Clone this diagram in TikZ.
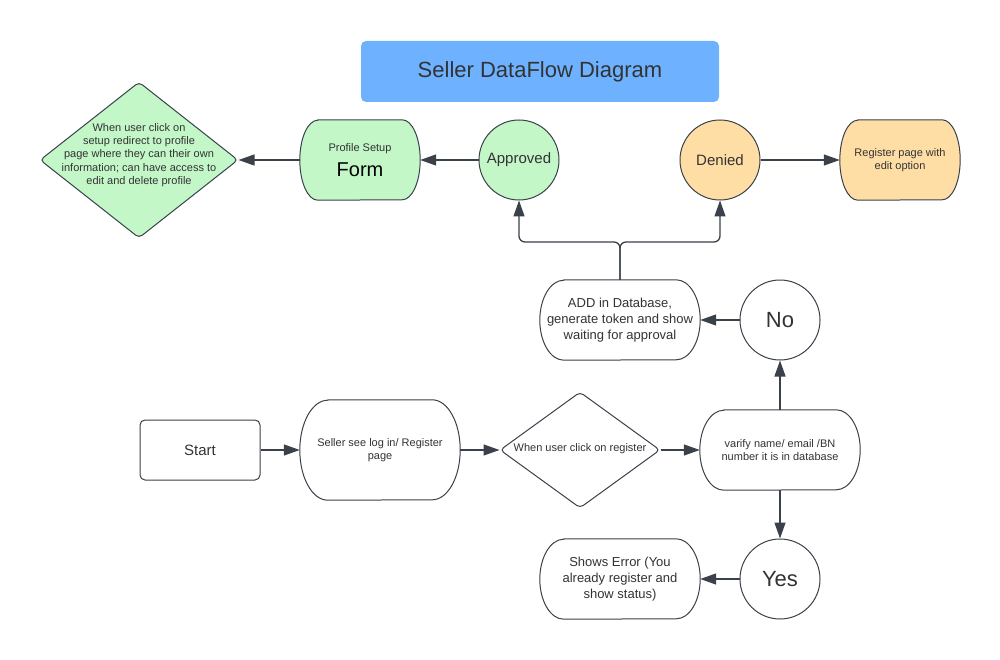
\documentclass[tikz,border=0pt]{standalone}
\usepackage{fontspec}
\setmainfont{Liberation Sans}
\usetikzlibrary{positioning,shapes.geometric,arrows.meta,calc,backgrounds}

\definecolor{linegray}{HTML}{3A414A}
\definecolor{textgray}{HTML}{333333}
\definecolor{mint}{HTML}{C3F7C8}
\definecolor{peach}{HTML}{FFDEA6}
\definecolor{skyblue}{HTML}{6DB1FF}

\newcommand{\fsz}[2]{\fontsize{#1}{#2}\selectfont}
% terminal outline with elliptic ends, drawn behind a named node
\newcommand{\stadium}[4]{%
	\filldraw[draw=linegray, line width=1pt, fill=#2]
		($(#1.north west)+(#3,0)$) -- ($(#1.north east)+(-#3,0)$)
		arc[start angle=90, end angle=-90, x radius=#3, y radius=#4]
		-- ($(#1.south west)+(#3,0)$)
		arc[start angle=270, end angle=90, x radius=#3, y radius=#4] -- cycle;}

\begin{document}
\begin{tikzpicture}[x=1pt, y=-1pt,
		every node/.style={text=textgray, inner sep=0pt, align=center},
		small/.style={font=\fsz{11}{13.3}},
		terminal/.style={small},
		state/.style={circle, draw=linegray, line width=1pt, minimum size=80pt},
		choice/.style={diamond, draw=linegray, line width=1pt, rounded corners=4pt},
		arr/.style={draw=linegray, line width=1.3pt, -{Triangle[length=16pt, width=11pt]}}]
		\useasboundingbox (0,0) rectangle (1000,660);
		
		\node[fill=skyblue, rounded corners=5pt, minimum width=358pt, minimum height=61pt, font=\fsz{22}{26}] (title) at (540,71.5) {Seller DataFlow Diagram};
		
		% top row
		\node[choice, fill=mint, minimum width=198pt, minimum height=156pt] (profile) at (139,160) {};
		\node[small] (profiletext) at (139,155) {When user click on\\setup redirect to profile\\page where they can their own\\information; can have access to\\edit and delete profile};
		\node[terminal, minimum width=120pt, minimum height=80pt] (form) at (360,160) {Profile Setup\\[8pt]{\fsz{20}{22}\color{black}Form}};
		\node[state, fill=mint, font=\fsz{15}{18}] (approved) at (519,160) {Approved};
		\node[state, fill=peach, font=\fsz{15}{18}] (denied) at (720,160) {Denied};
		\node[terminal, minimum width=120pt, minimum height=80pt] (regedit) at (900,160) {Register page with\\edit option};
		
		% middle row
		\node[terminal, font=\fsz{13}{15.7}, minimum width=160pt, minimum height=80pt] (add) at (620,320) {ADD in Database,\\generate token and show\\waiting for approval};
		\node[state, fill=white, font=\fsz{22}{26}] (no) at (780,320) {No};
		\coordinate (fork) at (620,242);
		
		% bottom row
		\node[draw=linegray, line width=1pt, fill=white, rounded corners=5pt, minimum width=120pt, minimum height=60pt, font=\fsz{15}{18}] (start) at (200,450) {Start};
		\node[terminal, minimum width=160pt, minimum height=100pt] (seller) at (380,450) {Seller see log in/ Register\\page};
		\node[choice, fill=white, minimum width=160pt, minimum height=116pt] (register) at (580,450) {};
		\node[small] (registertext) at (580,449) {When user click on register};
		\node[terminal, minimum width=160pt, minimum height=80pt] (varify) at (780,450) {varify name/ email /BN\\number it is in database};
		\node[state, fill=white, font=\fsz{22}{26}] (yes) at (780,579) {Yes};
		\node[terminal, font=\fsz{13}{15.7}, minimum width=160pt, minimum height=80pt] (error) at (620,579) {Shows Error (You\\already register and\\show status)};
		
		\begin{scope}[on background layer]
			\stadium{form}{mint}{18pt}{40pt}
			\stadium{regedit}{peach}{18pt}{40pt}
			\stadium{add}{white}{24pt}{40pt}
			\stadium{seller}{white}{28pt}{50pt}
			\stadium{varify}{white}{24pt}{40pt}
			\stadium{error}{white}{24pt}{40pt}
		\end{scope}
		
		\draw[arr] (approved) -- (form);
		\draw[arr] (form) -- (profile);
		\draw[arr] (denied) -- (regedit);
		\draw[arr, rounded corners=6pt] (add.north) -- (fork) -| (approved.south);
		\draw[arr, rounded corners=6pt] (add.north) -- (fork) -| (denied.south);
		\draw[arr] (no) -- (add);
		\draw[arr] (start) -- (seller);
		\draw[arr] (seller) -- (register);
		\draw[arr] (register) -- (varify);
		\draw[arr] (varify) -- (no);
		\draw[arr] (varify) -- (yes);
		\draw[arr] (yes) -- (error);
\end{tikzpicture}
\end{document}
